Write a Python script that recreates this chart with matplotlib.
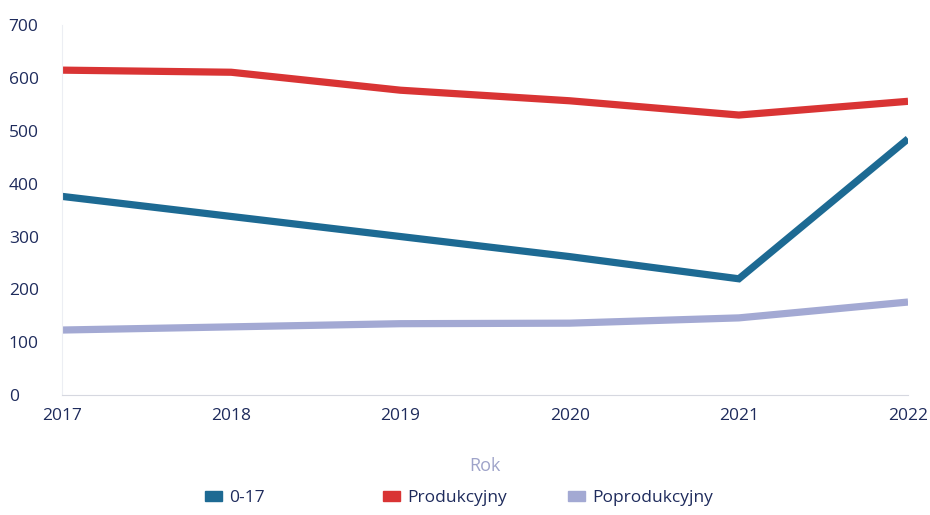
import matplotlib.pyplot as plt
from matplotlib.patches import Patch

plt.rcParams['font.family'] = ['Open Sans', 'DejaVu Sans']

years = [2017, 2018, 2019, 2020, 2021, 2022]
age_0_17 = [376, 338, 300, 262, 220, 485]
produkcyjny = [615, 611, 577, 557, 530, 556]
poprodukcyjny = [123, 129, 135, 136, 146, 176]

series_names = ['0-17', 'Produkcyjny', 'Poprodukcyjny']
series_colors = ['#1d6a93', '#d93434', '#a3a9d3']
tick_color = '#1e2b5c'

fig = plt.figure(figsize=(9.3, 5.15), dpi=100)
ax = fig.add_axes([0.0667, 0.233, 0.9097, 0.718])

for vals, col in zip([age_0_17, produkcyjny, poprodukcyjny], series_colors):
    ax.plot(years, vals, color=col, linewidth=5.2, solid_capstyle='butt',
            solid_joinstyle='miter')

ax.set_xlim(2017, 2022)
ax.set_ylim(0, 700)
ax.set_yticks(range(0, 701, 100))
ax.set_xticks(years)
ax.tick_params(axis='both', length=0, labelsize=12.5, colors=tick_color)
ax.tick_params(axis='y', pad=0)
for lbl in ax.get_yticklabels():
    lbl.set_horizontalalignment('left')
    lbl.set_x(-0.063)
ax.tick_params(axis='x', pad=9)

for s in ['top', 'right']:
    ax.spines[s].set_visible(False)
ax.spines['left'].set_color('#eceef3')
ax.spines['bottom'].set_color('#d6d8e0')
ax.spines['left'].set_linewidth(0.8)

ax.set_xlabel('Rok', fontsize=13, color='#9ea3c9', labelpad=24)

# legend entries placed one by one, like the original spacing
leg_x = [0.213, 0.404, 0.603]
for name, col, x in zip(series_names, series_colors, leg_x):
    lg = fig.legend(handles=[Patch(facecolor=col, edgecolor=col)], labels=[name],
                    loc='center left', bbox_to_anchor=(x, 0.033), frameon=False,
                    fontsize=12.5, handlelength=1.0, handleheight=0.5,
                    handletextpad=0.4, borderaxespad=0)
    for t in lg.get_texts():
        t.set_color(tick_color)

fig.savefig('out.png', dpi=100)
